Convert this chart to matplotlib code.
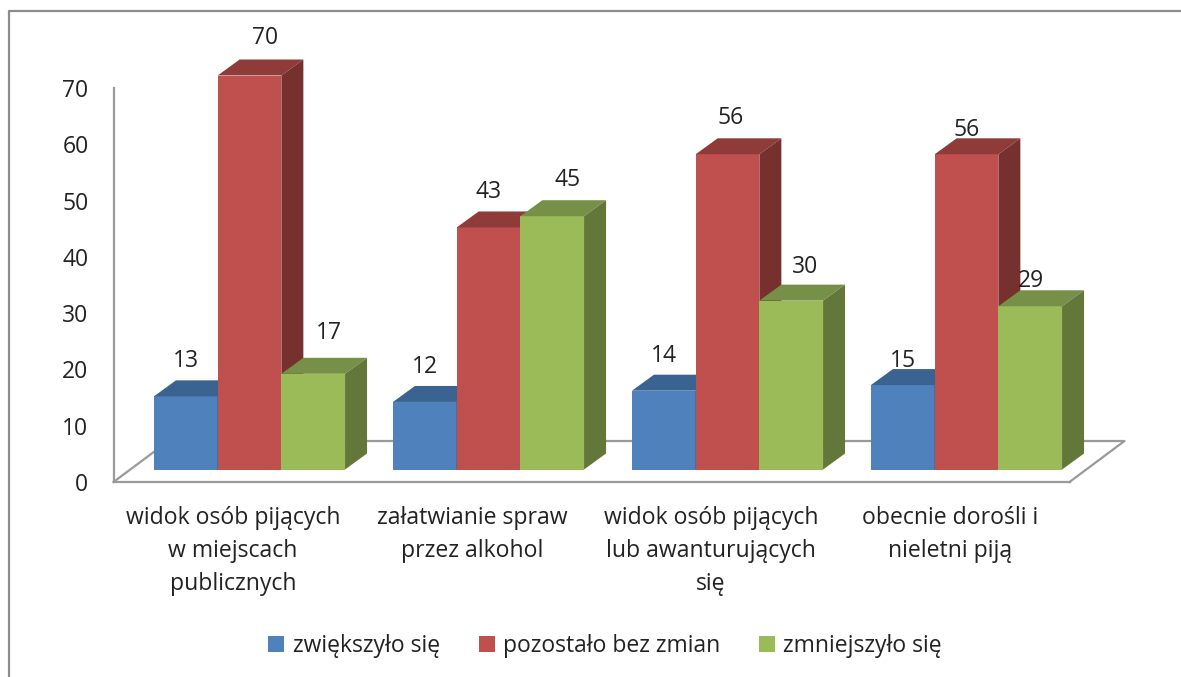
#!/usr/bin/env python3
"""Pseudo-3D clustered bars, Excel style, drawn on two overlaid axes."""
import numpy as np
import matplotlib
matplotlib.use("Agg")
import matplotlib.pyplot as plt
from matplotlib.patches import Patch, Polygon
from matplotlib.lines import Line2D

plt.rcParams["font.family"] = ["Open Sans", "DejaVu Sans"]

CATEGORIES = [
    "widok osób pijących\nw miejscach\npublicznych",
    "załatwianie spraw\nprzez alkohol",
    "widok osób pijących\nlub awanturujących\nsię",
    "obecnie dorośli i\nnieletni piją",
]
SERIES_NAMES = ["zwiększyło się", "pozostało bez zmian", "zmniejszyło się"]
INCREASED = [13, 12, 14, 15]
UNCHANGED = [70, 43, 56, 56]
DECREASED = [17, 45, 30, 29]
Y_TICKS = [0, 10, 20, 30, 40, 50, 60, 70]

FRONT = ["#4F81BD", "#C0504D", "#9BBB59"]
TOP = ["#3B6391", "#8F3B39", "#779048"]
SIDE = ["#2F5078", "#76302E", "#63773A"]
GREY = "#9A9A9A"
TEXT = "#222222"

W, H = 1181, 677
BAR_PX = 63.7
DEPTH_PX = (22, 16)
AXIS_BOX = (113.5, 1069.5, 482, 88)   # left, right, bottom, top in pixels
BAR_SHIFT = (16.5, 12.5)              # front of bars relative to axis box

# label nudges in pixels from the middle of each bar's front top edge
LABEL_NUDGE = [
    [(0, 35), (16, 38), (16, 41)],
    [(0, 35), (0, 35), (15, 36)],
    [(0, 35), (3, 36), (14, 34)],
    [(0, 24), (0, 24), (1, 25)],
]


def px_axes(fig, left, right, bottom, top):
    return fig.add_axes([left / W, 1 - bottom / H, (right - left) / W, (bottom - top) / H])


def draw_bar(ax, x, val, width, dx, dy, idx):
    x0, x1 = x - width / 2, x + width / 2
    ax.bar(x, val, width=width, color=FRONT[idx], linewidth=0, clip_on=False, zorder=3)
    ax.add_patch(Polygon([(x0, val), (x1, val), (x1 + dx, val + dy), (x0 + dx, val + dy)],
                         closed=True, fc=TOP[idx], ec="none", clip_on=False, zorder=3))
    ax.add_patch(Polygon([(x1, 0), (x1 + dx, dy), (x1 + dx, val + dy), (x1, val)],
                         closed=True, fc=SIDE[idx], ec="none", clip_on=False, zorder=3))


def main():
    fig = plt.figure(figsize=(W / 100, H / 100), dpi=100, facecolor="white")

    # outer chart frame: left and top edges only, both run off the picture
    fig.add_artist(Line2D([8.5 / W, 8.5 / W, 1],
                          [0, 1 - 10.5 / H, 1 - 10.5 / H],
                          color="#8C8C8C", linewidth=1.6))

    left, right, bottom, top = AXIS_BOX
    ax = px_axes(fig, left, right, bottom, top)
    ax.set_xlim(-0.5, 3.5)
    ax.set_ylim(0, 70)
    ax.set_yticks(Y_TICKS)
    ax.set_xticks(range(len(CATEGORIES)))
    ax.set_xticklabels(CATEGORIES, fontsize=16.6, color=TEXT, linespacing=1.5)
    ax.tick_params(axis="x", length=0, pad=17.5)
    ax.tick_params(axis="y", length=0, pad=18, labelsize=16.5, labelcolor=TEXT)
    for s in ["top", "right"]:
        ax.spines[s].set_visible(False)
    for s in ["left", "bottom"]:
        ax.spines[s].set_color(GREY)
        ax.spines[s].set_linewidth(1.6)

    # floor parallelogram behind the bars
    x_per_px = 4 / (right - left)
    y_per_px = 70 / (bottom - top)
    fx, fy = 55 * x_per_px, 41 * y_per_px
    ax.plot([-0.5, -0.5 + fx, 3.5 + fx, 3.5], [0, fy, fy, 0], color=GREY,
            linewidth=1.6, clip_on=False, zorder=1)

    bx = px_axes(fig, left + BAR_SHIFT[0], right + BAR_SHIFT[0],
                 bottom - BAR_SHIFT[1], top - BAR_SHIFT[1])
    bx.set_xlim(-0.5, 3.5)
    bx.set_ylim(0, 70)
    bx.axis("off")
    bx.patch.set_alpha(0)

    width = BAR_PX * x_per_px
    dx, dy = DEPTH_PX[0] * x_per_px, DEPTH_PX[1] * y_per_px
    offsets = np.array([-1, 0, 1]) * width
    for i in range(len(CATEGORIES)):
        for j, vals in enumerate([INCREASED, UNCHANGED, DECREASED]):
            x = i + offsets[j]
            draw_bar(bx, x, vals[i], width, dx, dy, j)
            nx, ny = LABEL_NUDGE[i][j]
            bx.annotate(str(vals[i]), (x, vals[i]), xytext=(nx * 0.72, ny * 0.72),
                        textcoords="offset points", ha="center", va="center",
                        fontsize=16.5, color=TEXT, annotation_clip=False, zorder=5)

    handles = [Patch(facecolor=c, edgecolor="none") for c in FRONT]
    fig.legend(handles, SERIES_NAMES, loc="center", bbox_to_anchor=(605 / W, 1 - 646 / H),
               ncol=3, frameon=False, fontsize=16.5, labelcolor=TEXT, handlelength=0.7,
               handleheight=0.7, handletextpad=0.35, columnspacing=1.7)

    fig.savefig("out.png", dpi=100)
    plt.close(fig)


if __name__ == "__main__":
    main()
